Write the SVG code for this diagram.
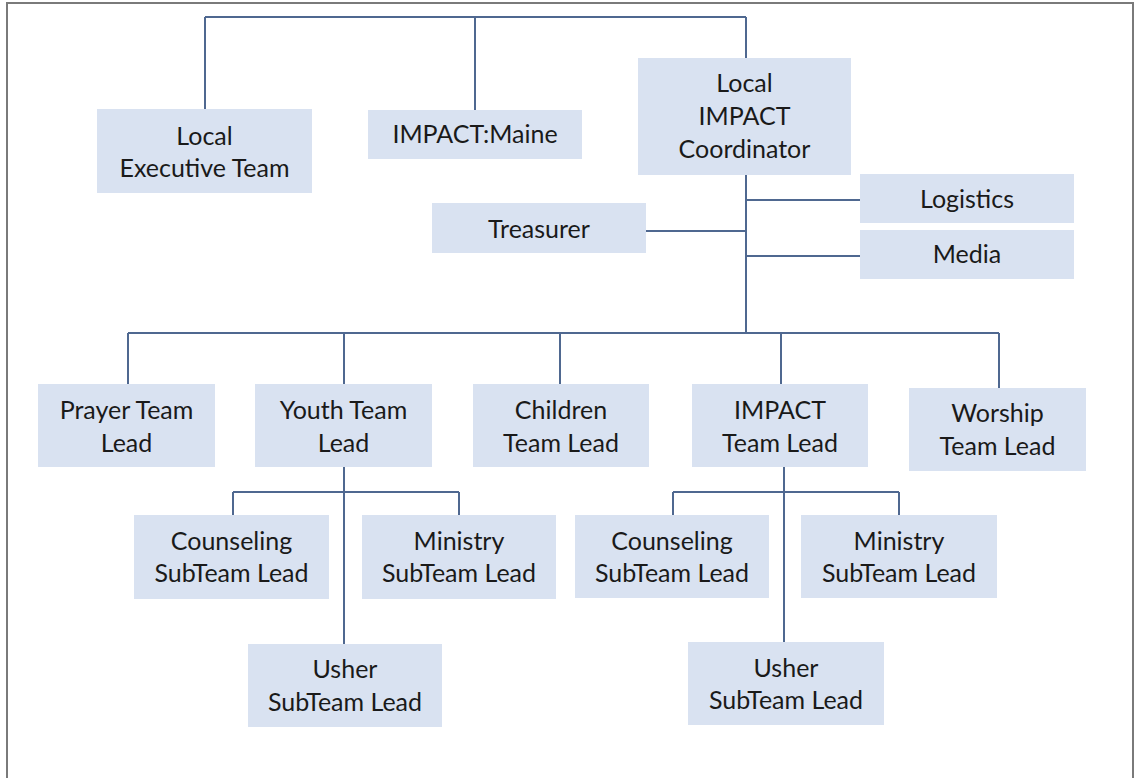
<svg xmlns="http://www.w3.org/2000/svg" width="1135" height="778" viewBox="0 0 1135 778">
<style>
.b{fill:#d9e2f1;}
.t{font-family:Lato,"Liberation Sans",sans-serif;font-size:25px;fill:#1a1a1a;text-anchor:middle;}
.c{stroke:#4f6890;stroke-width:2;fill:none;}
</style>
<rect x="0" y="0" width="1135" height="778" fill="#ffffff"/>
<rect x="7" y="3" width="1126" height="800" fill="none" stroke="#7a7a7a" stroke-width="2"/>
<g id="connectors" class="c">
<path d="M205 17H746M205 17V109M475 17V110M746 17V58"/>
<path d="M746 175V333M646 231H746M746 200H860M746 256H860"/>
<path d="M128 333H999M128 333V384M344 333V384M560 333V384M781 333V384M999 333V388"/>
<path d="M344 467V644M233 492H459M233 492V515M459 492V515"/>
<path d="M784 467V642M673 492H899M673 492V515M899 492V515"/>
</g>
<g id="local-exec"><rect class="b" x="97" y="109" width="215" height="84"/><text class="t" x="204.5" y="145">Local</text><text class="t" x="204.5" y="177">Executive Team</text></g>
<g id="impact-maine"><rect class="b" x="368" y="110" width="214" height="49"/><text class="t" x="475" y="143">IMPACT:Maine</text></g>
<g id="coordinator"><rect class="b" x="638" y="58" width="213" height="117"/><text class="t" x="744.5" y="92">Local</text><text class="t" x="744.5" y="125">IMPACT</text><text class="t" x="744.5" y="158">Coordinator</text></g>
<g id="treasurer"><rect class="b" x="432" y="203" width="214" height="50"/><text class="t" x="539" y="238">Treasurer</text></g>
<g id="logistics"><rect class="b" x="860" y="174" width="214" height="49"/><text class="t" x="967" y="208">Logistics</text></g>
<g id="media"><rect class="b" x="860" y="230" width="214" height="49"/><text class="t" x="967" y="263">Media</text></g>
<g id="prayer"><rect class="b" x="38" y="384" width="177" height="83"/><text class="t" x="126.5" y="419">Prayer Team</text><text class="t" x="126.5" y="452">Lead</text></g>
<g id="youth"><rect class="b" x="255" y="384" width="177" height="83"/><text class="t" x="343.5" y="419">Youth Team</text><text class="t" x="343.5" y="452">Lead</text></g>
<g id="children"><rect class="b" x="473" y="384" width="176" height="83"/><text class="t" x="561" y="419">Children</text><text class="t" x="561" y="452">Team Lead</text></g>
<g id="impact-team"><rect class="b" x="692" y="384" width="176" height="83"/><text class="t" x="780" y="419">IMPACT</text><text class="t" x="780" y="452">Team Lead</text></g>
<g id="worship"><rect class="b" x="909" y="388" width="177" height="83"/><text class="t" x="997.5" y="422">Worship</text><text class="t" x="997.5" y="455">Team Lead</text></g>
<g id="youth-counseling"><rect class="b" x="134" y="515" width="195" height="84"/><text class="t" x="231.5" y="550">Counseling</text><text class="t" x="231.5" y="582">SubTeam Lead</text></g>
<g id="youth-ministry"><rect class="b" x="362" y="515" width="194" height="84"/><text class="t" x="459" y="550">Ministry</text><text class="t" x="459" y="582">SubTeam Lead</text></g>
<g id="youth-usher"><rect class="b" x="248" y="644" width="194" height="83"/><text class="t" x="345" y="678">Usher</text><text class="t" x="345" y="711">SubTeam Lead</text></g>
<g id="impact-counseling"><rect class="b" x="575" y="515" width="194" height="83"/><text class="t" x="672" y="550">Counseling</text><text class="t" x="672" y="582">SubTeam Lead</text></g>
<g id="impact-ministry"><rect class="b" x="801" y="515" width="196" height="83"/><text class="t" x="899" y="550">Ministry</text><text class="t" x="899" y="582">SubTeam Lead</text></g>
<g id="impact-usher"><rect class="b" x="688" y="642" width="196" height="83"/><text class="t" x="786" y="677">Usher</text><text class="t" x="786" y="709">SubTeam Lead</text></g>
</svg>
